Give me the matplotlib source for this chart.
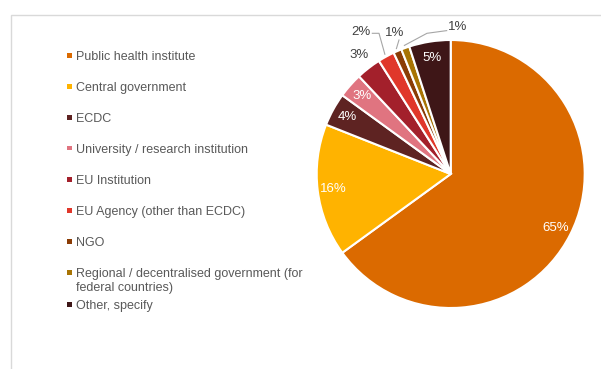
import numpy as np
import matplotlib
matplotlib.use("Agg")
import matplotlib.pyplot as plt
from matplotlib.patches import Rectangle

plt.rcParams['font.family'] = ['Liberation Sans', 'DejaVu Sans']

# data
categories = ["Public health institute", "Central government", "ECDC",
              "University / research institution", "EU Institution",
              "EU Agency (other than ECDC)", "NGO",
              "Regional / decentralised government (for\nfederal countries)",
              "Other, specify"]
shares = [65, 16, 4, 3, 3, 2, 1, 1, 5]
colors = ["#DB6A00", "#FFB300", "#5E2322", "#E07480", "#A3202B",
          "#E0372A", "#8A3C05", "#A87404", "#3E1617"]
# which labels sit inside the slice
inside = [True, True, True, True, False, False, False, False, True]

fig = plt.figure(figsize=(6.01, 3.69), dpi=100)
W, H = 601, 369

# light frame round the chart area (cut off at right and bottom)
fig.patches.append(Rectangle((11 / W, -0.1), 1.2, 1.1 - 15 / H,
                             transform=fig.transFigure, fill=False,
                             edgecolor="#D9D9D9", linewidth=1.0))

cx, cy, R = 450.7, 369 - 174, 134
ax = fig.add_axes([(cx - R) / W, (cy - R) / H, 2 * R / W, 2 * R / H])

wedges, _ = ax.pie(shares, colors=colors, startangle=90, counterclock=False,
                   radius=1, wedgeprops=dict(edgecolor="white", linewidth=1.5))
ax.set_xlim(-1, 1)
ax.set_ylim(-1, 1)
ax.axis("off")

# slice labels
total = sum(shares)
start = 90.0
mids = []
for s in shares:
    mids.append(start - 360 * s / total / 2)
    start -= 360 * s / total

for i, (s, m) in enumerate(zip(shares, mids)):
    t = np.deg2rad(m)
    if inside[i]:
        ax.text(0.88 * np.cos(t), 0.88 * np.sin(t), f"{s}%", color="white",
                fontsize=9.5, ha="center", va="center")

lead = "#A6A6A6"
dark = "#404040"


def edge(i, r=1.0):
    t = np.deg2rad(mids[i])
    return r * np.cos(t), r * np.sin(t)


# EU Institution: no leader line
x, y = edge(4, 1.12)
ax.text(x, y, f"{shares[4]}%", color=dark, fontsize=9.5, ha="center", va="center")

# EU Agency
ax.text(-0.60, 1.06, f"{shares[5]}%", color=dark, fontsize=9.5, ha="right", va="center")
ex, ey = edge(5, 1.02)
ax.plot([-0.585, -0.535, ex], [1.05, 1.05, ey], color=lead, lw=0.8, clip_on=False)

# NGO
ax.text(-0.42, 1.055, f"{shares[6]}%", color=dark, fontsize=9.5, ha="center", va="center")
ex, ey = edge(6, 1.02)
ax.plot([-0.386, ex], [1.0, ey], color=lead, lw=0.8, clip_on=False)

# Regional
ax.text(-0.02, 1.10, f"{shares[7]}%", color=dark, fontsize=9.5, ha="left", va="center")
ex, ey = edge(7, 1.02)
ax.plot([-0.03, -0.177, ex], [1.07, 1.05, ey], color=lead, lw=0.8, clip_on=False)

# legend drawn by hand so that wrapped entries keep Excel's spacing
ly = 55
for c, lab in zip(colors, categories):
    n = lab.count("\n") + 1
    fig.patches.append(Rectangle((67 / W, 1 - (ly + 2.5) / H), 5 / W, 5 / H,
                                 transform=fig.transFigure, facecolor=c,
                                 edgecolor="none"))
    fig.text(76 / W, 1 - (ly - 4) / H, lab, fontsize=9, color="#595959",
             ha="left", va="top", linespacing=1.2)
    ly += 31 if n == 1 else 15 * (n - 1) + 17

fig.savefig("out.png", dpi=100)
